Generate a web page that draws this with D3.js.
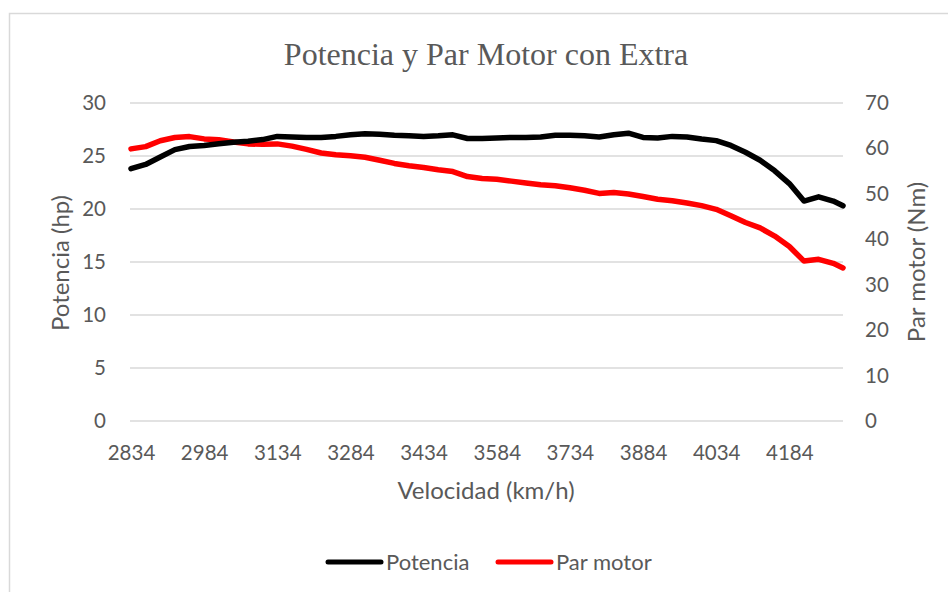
<!DOCTYPE html>
<html>
<head>
<meta charset="utf-8">
<script src="https://cdn.jsdelivr.net/npm/d3@7"></script>
<style>
  html, body { margin: 0; padding: 0; background: #fff; }
  svg { display: block; }
</style>
</head>
<body>
<svg id="chart" width="948" height="592"></svg>
<script>
// ---- data ----
const rpm = [2834, 2864, 2894, 2924, 2954, 2984, 3014, 3044, 3074, 3104,
             3134, 3164, 3194, 3224, 3254, 3284, 3314, 3344, 3374, 3404,
             3434, 3464, 3494, 3524, 3554, 3584, 3614, 3644, 3674, 3704,
             3734, 3764, 3794, 3824, 3854, 3884, 3914, 3944, 3974, 4004,
             4034, 4064, 4094, 4124, 4154, 4184, 4214, 4244, 4274, 4294];
const potencia = [23.8, 24.2, 24.9, 25.6, 25.9, 26.0, 26.15, 26.3, 26.4, 26.55,
                  26.85, 26.8, 26.75, 26.75, 26.85, 27.0, 27.1, 27.05, 26.95, 26.9,
                  26.85, 26.9, 27.0, 26.65, 26.65, 26.7, 26.75, 26.75, 26.8, 26.95,
                  26.95, 26.9, 26.8, 27.0, 27.15, 26.75, 26.7, 26.85, 26.8, 26.6,
                  26.45, 26.0, 25.35, 24.6, 23.6, 22.4, 20.75, 21.15, 20.75, 20.3];
const parMotor = [59.9, 60.4, 61.7, 62.4, 62.6, 62.1, 61.9, 61.4, 61.0, 60.9,
                  61.0, 60.5, 59.8, 59.0, 58.6, 58.4, 58.05, 57.4, 56.7, 56.2,
                  55.8, 55.3, 54.9, 53.8, 53.4, 53.2, 52.8, 52.4, 52.0, 51.8,
                  51.35, 50.8, 50.1, 50.3, 49.95, 49.4, 48.8, 48.5, 48.0, 47.4,
                  46.6, 45.2, 43.7, 42.5, 40.7, 38.4, 35.2, 35.6, 34.7, 33.7];
const xTickLabels = [2834, 2984, 3134, 3284, 3434, 3584, 3734, 3884, 4034, 4184];
const leftTicks = [0, 5, 10, 15, 20, 25, 30];
const rightTicks = [0, 10, 20, 30, 40, 50, 60, 70];
const seriesNames = ["Potencia", "Par motor"];
const seriesColors = ["#000000", "#ff0000"];
const titleText = "Potencia y Par Motor con Extra";
const xTitle = "Velocidad (km/h)";
const yLeftTitle = "Potencia (hp)";
const yRightTitle = "Par motor (Nm)";

// ---- layout ----
const svg = d3.select("#chart");
const textColor = "#595959";
const plot = { left: 130, right: 843, top: 103, bottom: 421 };

// chart-area border
svg.append("rect")
  .attr("x", 9.5).attr("y", 13.5)
  .attr("width", 948).attr("height", 600)
  .attr("fill", "#fff").attr("stroke", "#d9d9d9").attr("stroke-width", 1.5);

const x = d3.scaleLinear().domain([rpm[0], rpm[rpm.length - 1]]).range([131, plot.right]);
const yL = d3.scaleLinear().domain([0, 30]).range([plot.bottom, plot.top]);
const yR = d3.scaleLinear().domain([0, 70]).range([plot.bottom, plot.top]);

// gridlines
svg.append("g")
  .selectAll("line").data(leftTicks).join("line")
  .attr("x1", plot.left).attr("x2", plot.right)
  .attr("y1", d => yL(d)).attr("y2", d => yL(d))
  .attr("stroke", "#d9d9d9").attr("stroke-width", 1.5);

const tickFont = "Lato, 'Open Sans', sans-serif";
const tickSize = "20.5px";

// left axis
const gL = svg.append("g").attr("transform", `translate(${plot.left},0)`)
  .call(d3.axisLeft(yL).tickValues(leftTicks).tickSize(0).tickPadding(24));
gL.select(".domain").remove();
gL.selectAll("text").attr("fill", textColor).style("font-family", tickFont).style("font-size", tickSize);

// right axis
const gR = svg.append("g").attr("transform", `translate(${plot.right},0)`)
  .call(d3.axisRight(yR).tickValues(rightTicks).tickSize(0).tickPadding(22));
gR.select(".domain").remove();
gR.selectAll("text").attr("fill", textColor).style("font-family", tickFont).style("font-size", tickSize);

// bottom axis
const gB = svg.append("g").attr("transform", `translate(0,${plot.bottom})`)
  .call(d3.axisBottom(x).tickValues(xTickLabels).tickFormat(d3.format("d")).tickSize(0).tickPadding(24));
gB.select(".domain").remove();
gB.selectAll("text").attr("fill", textColor).style("font-family", tickFont).style("font-size", tickSize);

// lines
const lineP = d3.line().x((d, i) => x(rpm[i])).y(d => yL(d));
const lineT = d3.line().x((d, i) => x(rpm[i])).y(d => yR(d));
svg.append("path").datum(parMotor)
  .attr("d", lineT).attr("fill", "none").attr("stroke", seriesColors[1])
  .attr("stroke-width", 5.5).attr("stroke-linejoin", "round").attr("stroke-linecap", "round");
svg.append("path").datum(potencia)
  .attr("d", lineP).attr("fill", "none").attr("stroke", seriesColors[0])
  .attr("stroke-width", 5.5).attr("stroke-linejoin", "round").attr("stroke-linecap", "round");

// title
svg.append("text").attr("x", 486).attr("y", 65).attr("text-anchor", "middle")
  .attr("fill", textColor)
  .style("font-family", "'Liberation Serif', 'Times New Roman', serif").style("font-size", "32px")
  .text(titleText);

// axis titles
const axisTitleSize = "24px";
svg.append("text").attr("x", 486).attr("y", 499).attr("text-anchor", "middle")
  .attr("fill", textColor).style("font-family", tickFont).style("font-size", axisTitleSize)
  .text(xTitle);
svg.append("text").attr("transform", "translate(69,263) rotate(-90)").attr("text-anchor", "middle")
  .attr("fill", textColor).style("font-family", tickFont).style("font-size", axisTitleSize)
  .text(yLeftTitle);
svg.append("text").attr("transform", "translate(925,262) rotate(-90)").attr("text-anchor", "middle")
  .attr("fill", textColor).style("font-family", tickFont).style("font-size", axisTitleSize)
  .text(yRightTitle);

// legend
const legendItems = [
  { name: seriesNames[0], color: seriesColors[0], x0: 328 },
  { name: seriesNames[1], color: seriesColors[1], x0: 498 }
];
const lg = svg.append("g");
legendItems.forEach(it => {
  lg.append("line").attr("x1", it.x0).attr("x2", it.x0 + 53)
    .attr("y1", 562).attr("y2", 562)
    .attr("stroke", it.color).attr("stroke-width", 5).attr("stroke-linecap", "round");
  lg.append("text").attr("x", it.x0 + 58).attr("y", 562).attr("dy", "0.35em")
    .attr("fill", textColor).style("font-family", tickFont).style("font-size", "22px")
    .text(it.name);
});
</script>
</body>
</html>
